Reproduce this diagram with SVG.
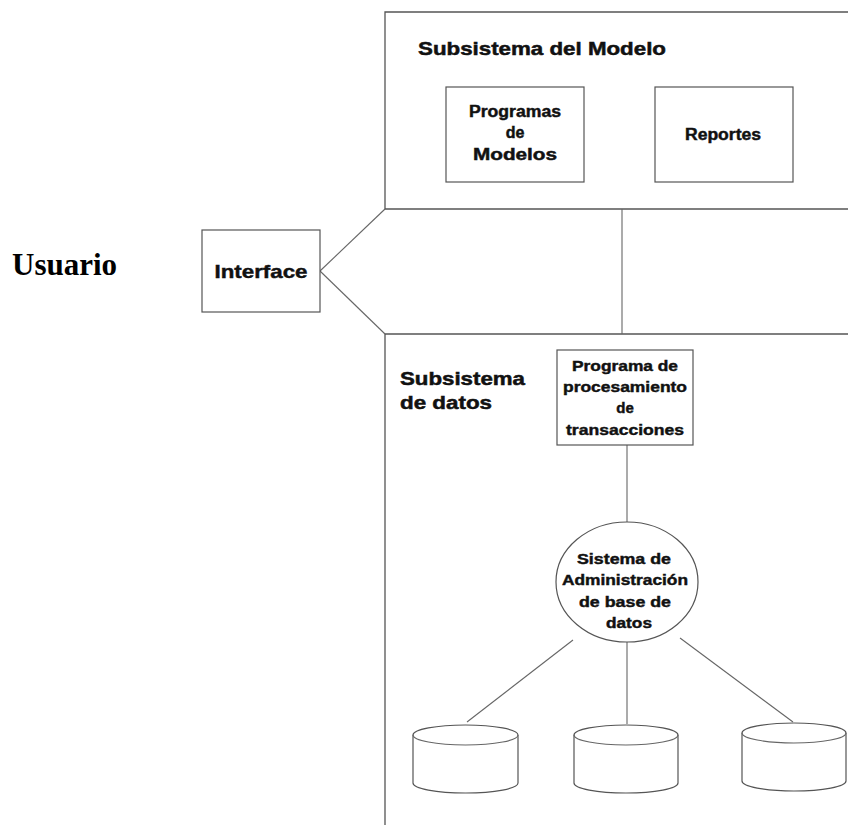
<svg xmlns="http://www.w3.org/2000/svg" width="848" height="825" viewBox="0 0 848 825">
<style>
.frame{fill:none;stroke:#555;stroke-width:1.3}
.box{fill:#fff;stroke:#555;stroke-width:1.2}
.conn{fill:none;stroke:#666;stroke-width:1.1}
.t{font-family:"Liberation Sans",Arial,sans-serif;font-weight:bold;fill:#111;stroke:#111;stroke-width:0.45;text-anchor:middle}
.h{font-family:"Liberation Sans",Arial,sans-serif;font-weight:bold;fill:#111;stroke:#111;stroke-width:0.5}
</style>
<rect width="848" height="825" fill="#fff"/>
<g id="subsistema-modelo">
<path class="frame" d="M850 12 H385 V209 H850"/>
<text class="h" x="418" y="55" font-size="18.5" textLength="248" lengthAdjust="spacingAndGlyphs">Subsistema del Modelo</text>
</g>
<g id="subsistema-datos">
<path class="frame" d="M850 334 H385 V826"/>
<text class="h" x="400" y="385" font-size="18.5" textLength="125" lengthAdjust="spacingAndGlyphs">Subsistema</text>
<text class="h" x="400" y="409" font-size="18.5" textLength="92" lengthAdjust="spacingAndGlyphs">de datos</text>
</g>
<g id="connectors">
<line class="conn" x1="320" y1="271" x2="385" y2="209"/>
<line class="conn" x1="320" y1="271" x2="385" y2="334"/>
<line class="conn" x1="622" y1="209" x2="622" y2="334"/>
<line class="conn" x1="627" y1="445" x2="627" y2="523"/>
<line class="conn" x1="573" y1="640" x2="467" y2="722"/>
<line class="conn" x1="627" y1="642" x2="627" y2="724"/>
<line class="conn" x1="680" y1="638" x2="793" y2="722"/>
</g>
<g id="usuario">
<text x="12" y="275" font-family="'Liberation Serif','Times New Roman',serif" font-weight="bold" font-size="31" fill="#000">Usuario</text>
</g>
<g id="interface">
<rect class="box" x="202" y="230" width="118" height="82"/>
<text class="t" x="261" y="278" font-size="19" textLength="93" lengthAdjust="spacingAndGlyphs">Interface</text>
</g>
<g id="programas-modelos">
<rect class="box" x="446" y="87" width="138" height="95"/>
<text class="t" x="515" y="117" font-size="16" textLength="92" lengthAdjust="spacingAndGlyphs">Programas</text>
<text class="t" x="515" y="138" font-size="16">de</text>
<text class="t" x="515" y="160" font-size="16" textLength="84" lengthAdjust="spacingAndGlyphs">Modelos</text>
</g>
<g id="reportes">
<rect class="box" x="655" y="87" width="138" height="95"/>
<text class="t" x="723" y="140" font-size="16" textLength="76" lengthAdjust="spacingAndGlyphs">Reportes</text>
</g>
<g id="programa-transacciones">
<rect class="box" x="557" y="350" width="136" height="95"/>
<text class="t" x="625" y="371" font-size="15" textLength="106" lengthAdjust="spacingAndGlyphs">Programa de</text>
<text class="t" x="625" y="392" font-size="15" textLength="124" lengthAdjust="spacingAndGlyphs">procesamiento</text>
<text class="t" x="625" y="413" font-size="15">de</text>
<text class="t" x="625" y="435" font-size="15" textLength="118" lengthAdjust="spacingAndGlyphs">transacciones</text>
</g>
<g id="sgbd">
<ellipse class="box" cx="627" cy="582" rx="71" ry="60"/>
<text class="t" x="624" y="564" font-size="15" textLength="94" lengthAdjust="spacingAndGlyphs">Sistema de</text>
<text class="t" x="625" y="585" font-size="15" textLength="126" lengthAdjust="spacingAndGlyphs">Administración</text>
<text class="t" x="625" y="607" font-size="15" textLength="92" lengthAdjust="spacingAndGlyphs">de base de</text>
<text class="t" x="629" y="628" font-size="15" textLength="46" lengthAdjust="spacingAndGlyphs">datos</text>
</g>
<g id="bd1">
<path class="box" d="M413 735 A52.5 10 0 0 1 518 735 V783 A52.5 10 0 0 1 413 783 Z"/>
<path class="conn" d="M413 735 A52.5 10 0 0 0 518 735"/>
</g>
<g id="bd2">
<path class="box" d="M574 735 A52 10 0 0 1 678 735 V783 A52 10 0 0 1 574 783 Z"/>
<path class="conn" d="M574 735 A52 10 0 0 0 678 735"/>
</g>
<g id="bd3">
<path class="box" d="M742 733 A52 10 0 0 1 846 733 V781 A52 10 0 0 1 742 781 Z"/>
<path class="conn" d="M742 733 A52 10 0 0 0 846 733"/>
</g>
</svg>
